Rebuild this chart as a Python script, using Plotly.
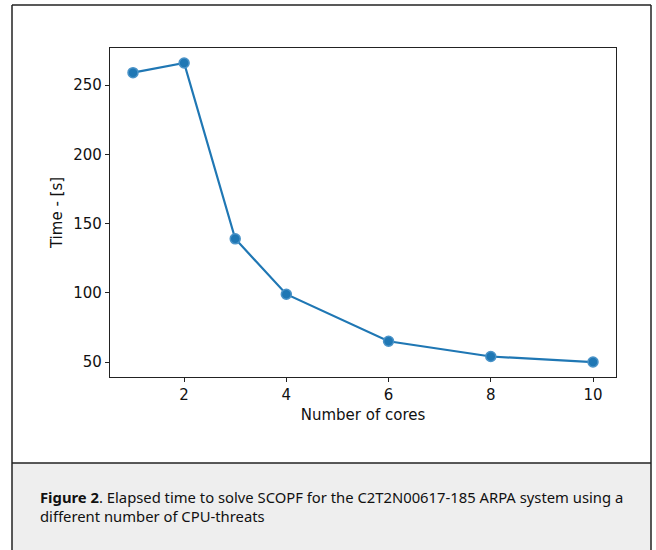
import plotly.graph_objects as go

cores = [1, 2, 3, 4, 6, 8, 10]
time_s = [259, 266, 139, 99, 65, 54, 50]
x_ticks = [2, 4, 6, 8, 10]
y_ticks = [50, 100, 150, 200, 250]

W, H = 656, 550
L, R, T, B = 110, 616, 48, 377

def px(x):
    return (x - L) / (R - L)

def py(y):
    return (B - y) / (B - T)

fig = go.Figure()
fig.add_trace(go.Scatter(
    x=cores, y=time_s, mode="lines+markers",
    line=dict(color="#1f77b4", width=2.2),
    marker=dict(size=10, color="#1f77b4", line=dict(color="#4a93c8", width=1.5)),
    showlegend=False,
))

axis_common = dict(
    showgrid=False, zeroline=False, showline=True, linecolor="#222222", linewidth=1.4,
    mirror=True, ticks="outside", ticklen=4, tickwidth=1.2, tickcolor="#222222",
    tickfont=dict(family="DejaVu Sans", size=15, color="#111111"),
)

fig.update_xaxes(range=[0.55, 10.45], tickvals=x_ticks, ticktext=[str(v) for v in x_ticks],
                 title=dict(text="Number of cores", font=dict(family="DejaVu Sans", size=15, color="#111111"), standoff=6),
                 **axis_common)
fig.update_yaxes(range=[39.2, 276.8], tickvals=y_ticks, ticktext=[str(v) for v in y_ticks],
                 title=dict(text="Time - [s]", font=dict(family="DejaVu Sans", size=15, color="#111111"), standoff=6),
                 **axis_common)

shapes = [
    # caption background
    dict(type="rect", xref="paper", yref="paper", x0=px(12), x1=px(651), y0=py(463), y1=py(560),
         fillcolor="#eeeeee", line=dict(width=0), layer="below"),
    dict(type="line", xref="paper", yref="paper", x0=px(12), x1=px(651), y0=py(463), y1=py(463),
         line=dict(color="#222222", width=1.5)),
    # outer border
    dict(type="line", xref="paper", yref="paper", x0=px(12), x1=px(651), y0=py(5), y1=py(5),
         line=dict(color="#222222", width=1.5)),
    dict(type="line", xref="paper", yref="paper", x0=px(12), x1=px(12), y0=py(5), y1=py(560),
         line=dict(color="#222222", width=1.5)),
    dict(type="line", xref="paper", yref="paper", x0=px(651), x1=px(651), y0=py(5), y1=py(560),
         line=dict(color="#222222", width=1.5)),
]

caption = ("<b>Figure 2</b>. Elapsed time to solve SCOPF for the C2T2N00617-185 ARPA system using a"
           "<br>different number of CPU-threats")

fig.update_layout(
    width=W, height=H,
    margin=dict(l=L, r=W - R, t=T, b=H - B),
    paper_bgcolor="white", plot_bgcolor="white",
    shapes=shapes,
    annotations=[dict(
        text=caption, xref="paper", yref="paper", x=px(38), y=py(485),
        xanchor="left", yanchor="top", align="left", showarrow=False,
        font=dict(family="Noto Sans", size=14.8, color="#111111"),
    )],
)

fig.write_html("out.html")
